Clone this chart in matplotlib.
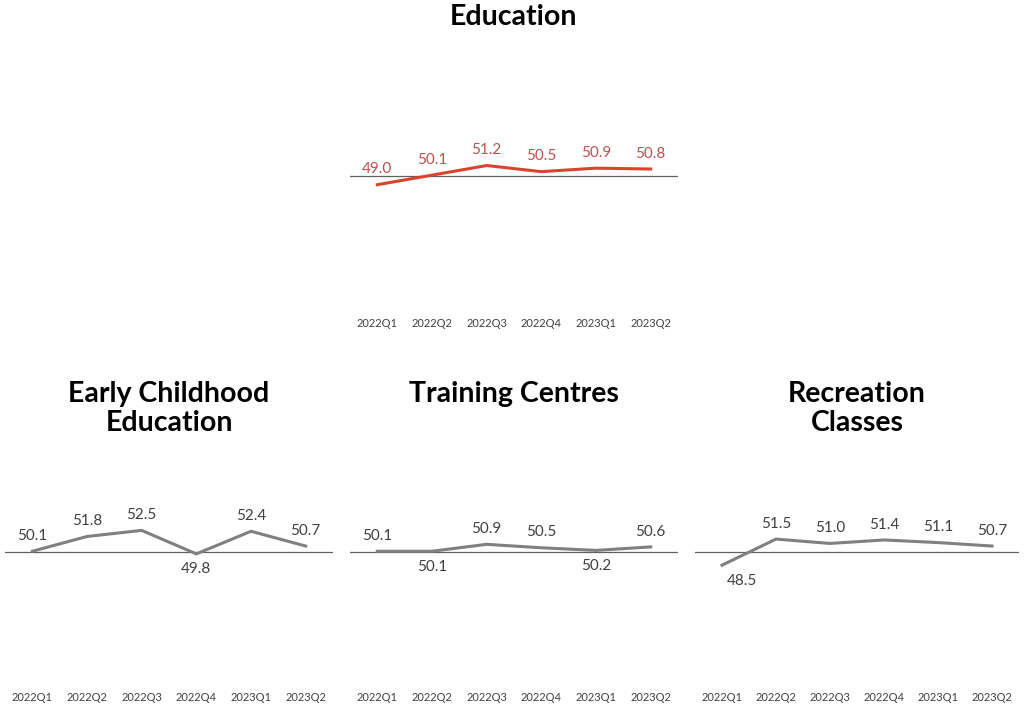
import matplotlib
matplotlib.use("Agg")
import matplotlib.pyplot as plt

quarters = ["2022Q1","2022Q2","2022Q3","2022Q4","2023Q1","2023Q2"]
education = [49.0, 50.1, 51.2, 50.5, 50.9, 50.8]
early_childhood = [50.1, 51.8, 52.5, 49.8, 52.4, 50.7]
training = [50.1, 50.1, 50.9, 50.5, 50.2, 50.6]
recreation = [48.5, 51.5, 51.0, 51.4, 51.1, 50.7]
# label placement: 1 above, -1 below
pos_edu = [1,1,1,1,1,1]
pos_ece = [1,1,1,-1,1,1]
pos_tr = [1,-1,1,1,-1,1]
pos_rec = [-1,1,1,1,1,1]

W, H = 1024, 713
fig = plt.figure(figsize=(W/100, H/100), dpi=100)
fam = ["Lato", "DejaVu Sans"]

def panel(x0, y0, x1, y1, ylim, vals, pos, title, lc, tc, title_y, shift=None):
    ax = fig.add_axes([x0/W, 1-y1/H, (x1-x0)/W, (y1-y0)/H])
    xs = range(len(vals))
    ax.axhline(50, color="#606060", lw=0.9, zorder=1)
    ax.plot(xs, vals, color=lc, lw=2.2, zorder=2)
    shift = shift or [0]*len(vals)
    for x, v, p, s in zip(xs, vals, pos, shift):
        ax.annotate(f"{v:.1f}", (x, v), xytext=(s, 6*p), textcoords="offset points",
                    ha="center", va="bottom" if p > 0 else "top",
                    fontsize=11, color=tc, family=fam)
    ax.set_xlim(-0.5, len(vals)-0.5)
    ax.set_ylim(*ylim)
    ax.set_xticks(list(xs))
    ax.set_xticklabels(quarters, fontsize=8, color="#404040", family=fam)
    ax.tick_params(length=0, pad=4)
    ax.set_yticks([])
    for s in ax.spines.values():
        s.set_visible(False)
    fig.text((x0+x1)/2/W, 1-title_y/H, title, ha="center", va="top",
             fontsize=20.5, fontweight="bold", family=fam, color="black", linespacing=1.15)
    return ax

panel(350, 40, 678, 312, (34.4, 65.6), education, pos_edu, "Education",
      "#d9442f", "#c0504d", 4)
bl = (34.6, 62.9)
panel(5, 440, 333, 686, bl, early_childhood, pos_ece, "Early Childhood\nEducation",
      "#808080", "#404040", 381)
panel(350, 440, 678, 686, bl, training, pos_tr, "Training Centres",
      "#808080", "#404040", 381)
panel(695, 440, 1019, 686, bl, recreation, pos_rec, "Recreation\nClasses",
      "#808080", "#404040", 381, shift=[14,0,0,0,0,0])

fig.savefig("out.png", dpi=100, facecolor="white")
